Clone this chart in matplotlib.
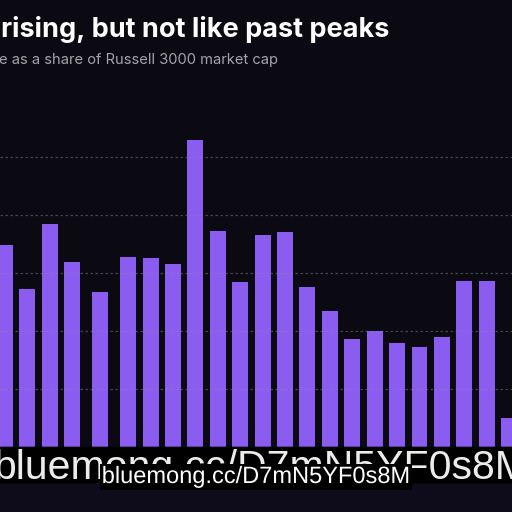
import matplotlib.pyplot as plt
import matplotlib.patheffects as pe

# bar positions (uneven spacing in the source) and heights
periods = [0, 1, 2, 3, 4.25, 5.5, 6.5, 7.5, 8.5, 9.5, 10.5, 11.5,
           12.5, 13.5, 14.5, 15.5, 16.5, 17.5, 18.5, 19.5, 20.5, 21.5, 22.5]
share = [3.48, 2.72, 3.84, 3.19, 2.67, 3.28, 3.26, 3.16, 5.29, 3.72, 2.84, 3.66,
         3.71, 2.76, 2.34, 1.86, 2.00, 1.79, 1.72, 1.90, 2.86, 2.86, 0.50]
grid_vals = [1, 2, 3, 4, 5]

bg = "#0b0a13"
bar_color = "#8b5cf0"

fig = plt.figure(figsize=(5.12, 5.12), dpi=100, facecolor=bg)
ax = fig.add_axes([0, 65 / 512, 1, 317 / 512])
ax.set_facecolor(bg)

ax.bar(periods, share, width=0.71, color=bar_color, zorder=2)
for g in grid_vals:
    ax.axhline(g, color="#8a8a96", lw=0.9, ls=(0, (2, 2)), alpha=0.45, zorder=3)

ax.set_xlim(-0.223, 22.63)
ax.set_ylim(0, 317 / 58)
ax.axis("off")

fig.text(0.002, 1 - 37 / 512, "rising, but not like past peaks", color="white",
         fontsize=19.5, fontweight="bold", family="Inter", va="baseline")
fig.text(-0.002, 1 - 64 / 512, "e as a share of Russell 3000 market cap", color="#a3a3ad",
         fontsize=10.6, family="Inter", va="baseline")

# watermark overlay at the bottom
fig.patches.append(plt.Rectangle((0, 0), 1, 65 / 512, transform=fig.transFigure,
                                 color="#0e0c1b", zorder=0))
fig.patches.append(plt.Rectangle((0, 1 - 482 / 512), 1, 35 / 512, transform=fig.transFigure,
                                 color="black", zorder=1))
fig.text(-0.012, 1 - 479 / 512, "bluemong.cc/D7mN5YF0s8M", color="#ececec",
         fontsize=29.5, family="Liberation Sans", va="baseline", zorder=5)
fig.text(0.5, 1 - 483 / 512, "bluemong.cc/D7mN5YF0s8M", color="white",
         fontsize=17, family="Liberation Sans", va="baseline", ha="center", zorder=6,
         bbox=dict(facecolor="black", edgecolor="none", pad=1.5),
         path_effects=[pe.withStroke(linewidth=2, foreground="black")])

fig.savefig("out.png", dpi=100, facecolor=bg)
